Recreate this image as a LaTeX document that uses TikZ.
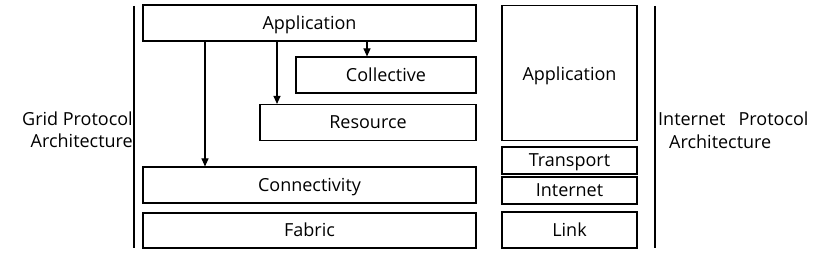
\documentclass[tikz,border=0pt]{standalone}
\usepackage{fontspec}
\setmainfont{Open Sans}
\usetikzlibrary{arrows.meta}
\begin{document}
\begin{tikzpicture}[x=1pt,y=-1pt,
  layer/.style={draw, line width=1.1pt, inner sep=0pt, text height=12.5pt, text depth=0pt, font=\fontsize{18}{20}\selectfont},
  bar/.style={line width=2.4pt},
  flow/.style={-{Triangle[length=8pt,width=7pt]}, line width=1.1pt},
  lbl/.style={font=\fontsize{18}{20}\selectfont, inner sep=0pt}]
\useasboundingbox (0,0) rectangle (826,261);
% bars
\draw[bar] (134,6) coordinate (lb1) -- (134,248) coordinate (lb2);
\draw[bar] (655,6) coordinate (rb1) -- (655,248) coordinate (rb2);
% grid boxes
\node[layer, minimum width=333pt, minimum height=36pt] (gapp) at (309.5,23) {Application};
\node[layer, minimum width=180pt, minimum height=36pt] (coll) at (386,75) {Collective};
\node[layer, minimum width=216pt, minimum height=36pt] (res) at (368,122.5) {Resource};
\node[layer, minimum width=333pt, minimum height=36pt] (conn) at (309.5,185) {Connectivity};
\node[layer, minimum width=333pt, minimum height=35pt] (fab) at (309.5,230.5) {Fabric};
% arrows
\draw[flow] (gapp.south -| 205,0) -- (conn.north -| 205,0);
\draw[flow] (gapp.south -| 277,0) -- (res.north -| 277,0);
\draw[flow] (gapp.south -| 367,0) -- (coll.north -| 367,0);
% internet boxes
\node[layer, minimum width=135pt, minimum height=135pt, anchor=north] (iapp) at (569.5,5) {};
\node[lbl, text height=12.5pt, text depth=0pt] (iapptxt) at (569.5,74) {Application};
\node[layer, minimum width=135pt, minimum height=27pt] (tran) at (569.5,160.5) {Transport};
\node[layer, minimum width=135pt, minimum height=27pt] (inet) at (569.5,190.5) {Internet};
\node[layer, minimum width=135pt, minimum height=36pt] (link) at (569.5,230) {Link};
% labels
\node[lbl, anchor=east] (g1) at (133,119) {Grid Protocol};
\node[lbl, anchor=east] (g2) at (133,141) {Architecture};
\node[lbl, anchor=west] (i1) at (658,119) {Internet\hspace{13pt}Protocol};
\node[lbl, anchor=west] (i2) at (669,142) {Architecture};
\end{tikzpicture}
\end{document}
